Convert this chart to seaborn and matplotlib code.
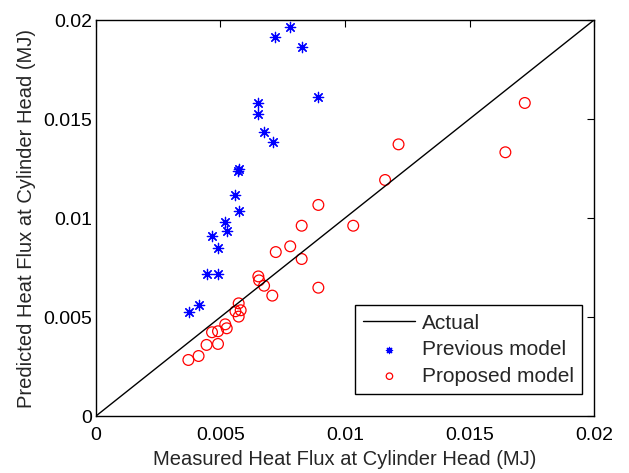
import matplotlib
matplotlib.use("Agg")
import matplotlib.pyplot as plt
import seaborn as sns
import pandas as pd

actual_x = [0.0, 0.02]
actual_y = [0.0, 0.02]

prev_measured = [0.00779, 0.00720, 0.00827, 0.00892, 0.00652, 0.00652, 0.00675, 0.00710,
                 0.00576, 0.00572, 0.00560, 0.00573, 0.00519, 0.00525, 0.00466, 0.00491,
                 0.00444, 0.00491, 0.00412, 0.00372]
prev_predicted = [0.01963, 0.01916, 0.01862, 0.01610, 0.01580, 0.01527, 0.01434, 0.01382,
                  0.01247, 0.01237, 0.01118, 0.01035, 0.00978, 0.00936, 0.00909, 0.00850,
                  0.00719, 0.00719, 0.00559, 0.00525]

prop_measured = [0.00893, 0.00826, 0.00780, 0.00722, 0.00826, 0.00652, 0.00655, 0.00675,
                 0.00708, 0.00893, 0.00573, 0.00560, 0.00581, 0.00573, 0.00519, 0.00525,
                 0.00490, 0.00466, 0.00444, 0.00490, 0.00412, 0.00371, 0.01161, 0.01215,
                 0.01033, 0.01644, 0.01722]
prop_predicted = [0.01066, 0.00961, 0.00857, 0.00828, 0.00793, 0.00705, 0.00685, 0.00658,
                  0.00608, 0.00648, 0.00569, 0.00529, 0.00534, 0.00502, 0.00463, 0.00443,
                  0.00428, 0.00423, 0.00359, 0.00364, 0.00303, 0.00283, 0.01192, 0.01372,
                  0.00961, 0.01332, 0.01581]

sns.set_style("white")
plt.rcParams['font.family'] = ['Liberation Sans', 'DejaVu Sans']

fig = plt.figure(figsize=(6.29, 4.73), dpi=100)
ax = fig.add_axes([0.1526, 0.1205, 0.7918, 0.8372])

sns.lineplot(x=actual_x, y=actual_y, ax=ax, color='black', linewidth=1.0, label='Actual')
sns.scatterplot(x=prev_measured, y=prev_predicted, ax=ax, marker=(8, 2, 0), s=55,
                color='blue', edgecolor='blue', linewidth=0.9, label='Previous model')
sns.scatterplot(x=prop_measured, y=prop_predicted, ax=ax, marker='o', s=60,
                facecolor='none', edgecolor='red', linewidth=0.9, label='Proposed model')

ax.set_xlim(0, 0.02)
ax.set_ylim(0, 0.02)
ax.set_xticks([0, 0.005, 0.01, 0.015, 0.02])
ax.set_xticklabels(['0', '0.005', '0.01', '0.015', '0.02'])
ax.set_yticks([0, 0.005, 0.01, 0.015, 0.02])
ax.set_yticklabels(['0', '0.005', '0.01', '0.015', '0.02'])
ax.tick_params(direction='in', length=5, width=0.8, top=True, right=True,
               labelsize=14, colors='black')
ax.tick_params(axis='x', pad=8)
ax.tick_params(axis='y', pad=3)
for sp in ax.spines.values():
    sp.set_color('black')
    sp.set_linewidth(1.0)
ax.set_xlabel('Measured Heat Flux at Cylinder Head (MJ)', fontsize=14.5, labelpad=4)
ax.set_ylabel('Predicted Heat Flux at Cylinder Head (MJ)', fontsize=14.5, labelpad=5)

leg = ax.legend(loc='lower right', bbox_to_anchor=(0.976, 0.0556), borderaxespad=0,
                fontsize=15, frameon=True, fancybox=False,
                edgecolor='black', framealpha=1, handlelength=2.5, handletextpad=0.3,
                labelspacing=0.36, borderpad=0.4, markerscale=0.6)
leg.get_frame().set_linewidth(1.0)

fig.savefig('out.png', dpi=100)
